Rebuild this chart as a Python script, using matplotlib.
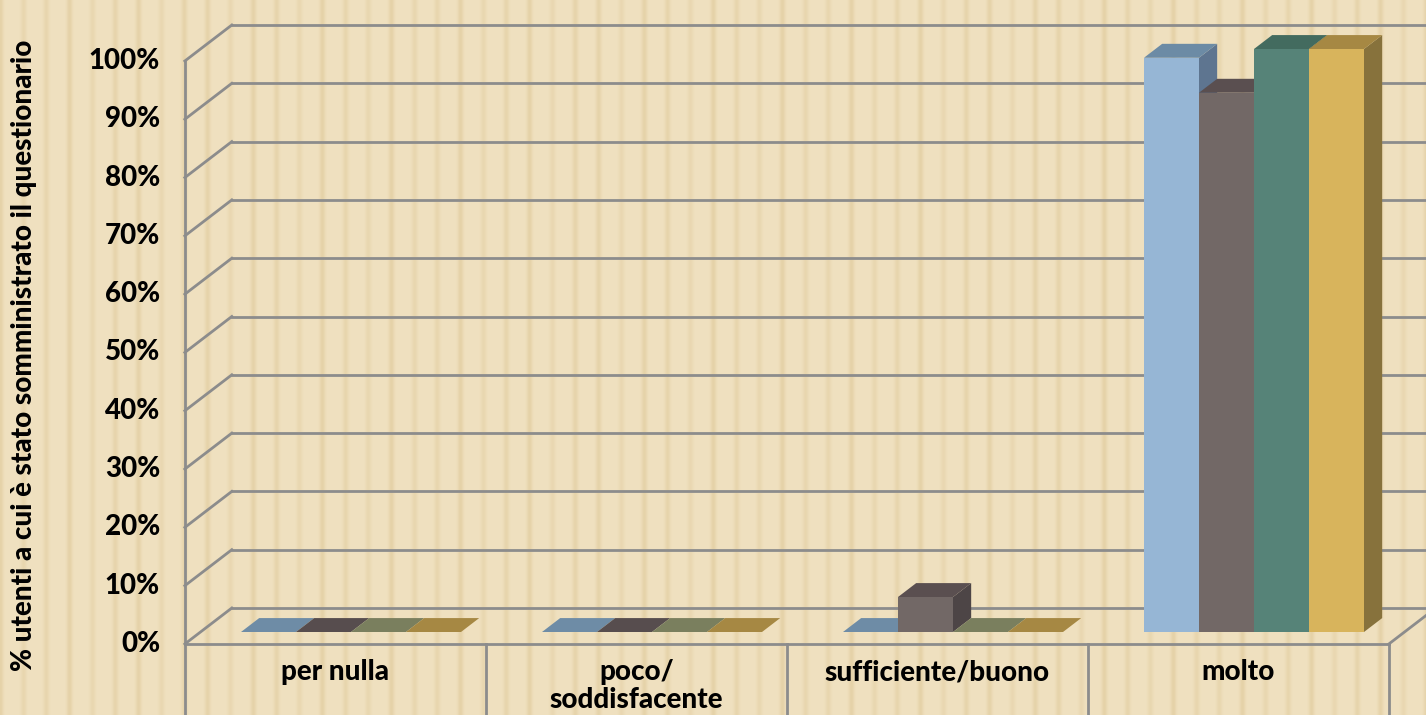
import numpy as np
import matplotlib
matplotlib.use("Agg")
import matplotlib.pyplot as plt
from matplotlib.patches import Polygon
import matplotlib.transforms as mtransforms

plt.rcParams['font.family'] = ['Lato', 'DejaVu Sans']

# dati
categorie = ['per nulla', 'poco/\nsoddisfacente', 'sufficiente/buono', 'molto']
serie_1 = [0, 0, 0, 98.5]
serie_2 = [0, 0, 6, 92.5]
serie_3 = [0, 0, 0, 100]
serie_4 = [0, 0, 0, 100]
serie = [serie_1, serie_2, serie_3, serie_4]
tick_y = list(range(0, 101, 10))
etichetta_y = '% utenti a cui è stato somministrato il questionario'

# colori delle barre: faccia frontale, superiore, laterale
col_fronte = ['#96B6D5', '#726866', '#568378', '#D8B45C']
col_sopra = ['#6C8BA5', '#5A4F50', '#436B5F', '#A68843']
col_lato = ['#5E7590', '#4D4546', '#3F6156', '#87723C']
col_zero = ['#6E8CA6', '#574D4E', '#7A7F5E', '#A68843']
col_griglia = '#8C8C8C'

# geometria (pixel)
W, H = 1426, 715
PXC = 301.0      # pixel per categoria
PXV = 5.83       # pixel per punto percentuale
X_C2 = 953.0     # centro categoria 2 sul piano delle barre
Y_0 = 632.0      # 0% sul piano delle barre
PROF = (47.0, 36.0)   # profondita' totale del pavimento (dx, dy verso l'alto)
T_FRONTE = 1 / 3      # piano frontale delle barre
T_RETRO = 0.72        # piano posteriore delle barre
LARG = 55.0 / PXC     # larghezza barra in categorie


def sposta(t):
    # spostamento in coordinate dati per una frazione t della profondita'
    return ((t - T_FRONTE) * PROF[0] / PXC, (t - T_FRONTE) * PROF[1] / PXV)


fig = plt.figure(figsize=(W / 100, H / 100), dpi=100)

# sfondo a righe verticali
bg = fig.add_axes([0, 0, 1, 1])
xs = np.arange(W)
righe = 0.5 + 0.5 * np.cos(2 * np.pi * xs / 23.0)
righe = righe ** 6 * (0.6 + 0.4 * np.cos(2 * np.pi * xs / 71.0) ** 2)
base = np.array([240, 225, 192]) / 255
scuro = np.array([229, 210, 168]) / 255
img = base[None, :] * (1 - righe[:, None]) + scuro[None, :] * righe[:, None]
bg.imshow(img[None, :, :], aspect='auto', extent=(0, 1, 0, 1))
bg.axis('off')

ax = fig.add_axes([0, 0, 1, 1])
ax.patch.set_alpha(0)
ax.axis('off')
ax.set_xlim(2 - X_C2 / PXC, 2 + (W - X_C2) / PXC)
ax.set_ylim((Y_0 - H) / PXV, Y_0 / PXV)

fx, fy = sposta(0)
bx, by = sposta(1)
xmax = ax.get_xlim()[1]
ymin = ax.get_ylim()[0]
lw = 2.0

# pareti e griglia
for v in tick_y:
    ax.plot([-0.5 + fx, -0.5 + bx], [v + fy, v + by], color=col_griglia, lw=lw, zorder=1)
    ax.plot([-0.5 + bx, xmax], [v + by, v + by], color=col_griglia, lw=lw, zorder=1)
# pavimento
ax.plot([-0.5 + fx, 3.5 + fx], [fy, fy], color=col_griglia, lw=lw, zorder=1)
ax.plot([3.5 + fx, 3.5 + bx], [fy, by], color=col_griglia, lw=lw, zorder=1)
# asse verticale e separatori delle categorie
ax.plot([-0.5 + fx, -0.5 + fx], [100 + fy, ymin], color=col_griglia, lw=lw, zorder=1)
for k in range(1, len(categorie) + 1):
    ax.plot([-0.5 + k + fx, -0.5 + k + fx], [fy, ymin], color=col_griglia, lw=lw, zorder=1)

# barre 3D
dx, dy = sposta(T_RETRO)
z = 2
for i in range(len(categorie)):
    x0 = i - 2 * LARG
    for j, s in enumerate(serie):
        v = s[i]
        l, r = x0 + j * LARG, x0 + (j + 1) * LARG
        if v == 0:
            ax.add_patch(Polygon([(l, 0), (r, 0), (r + dx, dy), (l + dx, dy)],
                                 closed=True, fc=col_zero[j], ec='none', zorder=z))
        else:
            ax.add_patch(Polygon([(r, 0), (r + dx, dy), (r + dx, v + dy), (r, v)],
                                 closed=True, fc=col_lato[j], ec='none', zorder=z))
            ax.add_patch(Polygon([(l, v), (r, v), (r + dx, v + dy), (l + dx, v + dy)],
                                 closed=True, fc=col_sopra[j], ec='none', zorder=z))
            ax.add_patch(Polygon([(l, 0), (r, 0), (r, v), (l, v)],
                                 closed=True, fc=col_fronte[j], ec='none', zorder=z))
        z += 1

# etichette asse y
tr_y = mtransforms.blended_transform_factory(fig.transFigure, ax.transData)
for v in tick_y:
    ax.text(160 / W, v + fy, f'{v}%', transform=tr_y, ha='right', va='center',
            fontsize=20, fontweight='black', color='black')

# etichette categorie
tr_x = mtransforms.blended_transform_factory(ax.transData, fig.transFigure)
for i, c in enumerate(categorie):
    ax.text(i + fx, 1 - 659 / H, c, transform=tr_x, ha='center', va='top',
            fontsize=20, fontweight='black', color='black', linespacing=1.1)

fig.text(24 / W, 1 - 355 / H, etichetta_y, rotation=90, ha='center', va='center',
         fontsize=20, fontweight='black', color='black')

fig.savefig('out.png', dpi=100)
